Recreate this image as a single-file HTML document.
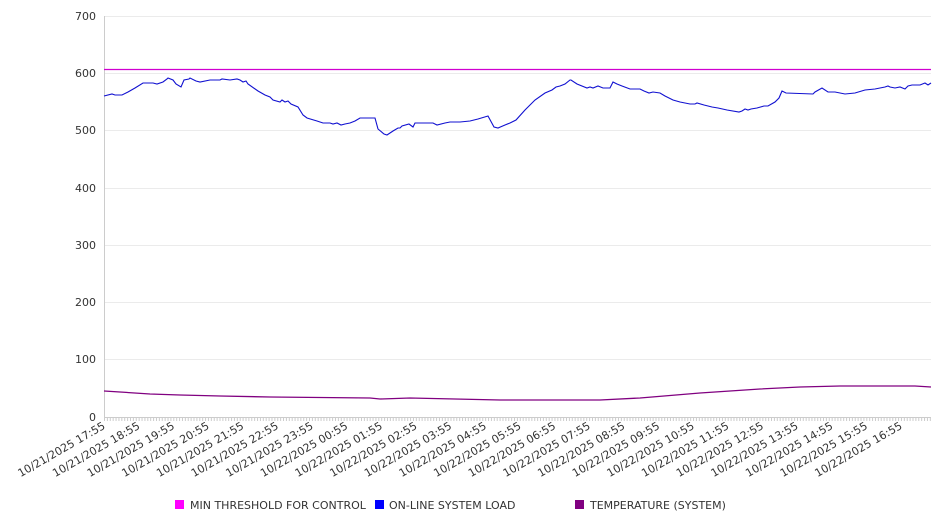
<!DOCTYPE html>
<html><head><style>body{margin:0;background:#fff}svg{display:block;font-family:"DejaVu Sans","Liberation Sans",sans-serif}</style></head><body>
<svg width="946" height="526" xmlns="http://www.w3.org/2000/svg">
<g stroke="#ebebeb" stroke-width="1">
<line x1="104" x2="931" y1="16.5" y2="16.5"/><line x1="104" x2="931" y1="73.5" y2="73.5"/><line x1="104" x2="931" y1="130.5" y2="130.5"/><line x1="104" x2="931" y1="188.5" y2="188.5"/><line x1="104" x2="931" y1="245.5" y2="245.5"/><line x1="104" x2="931" y1="302.5" y2="302.5"/><line x1="104" x2="931" y1="359.5" y2="359.5"/>
</g>
<line x1="104.5" x2="104.5" y1="16" y2="417" stroke="#ccc"/>
<line x1="104" x2="931" y1="417.5" y2="417.5" stroke="#ccc"/>
<g font-size="11" fill="#333" text-anchor="end">
<text x="96" y="20">700</text><text x="96" y="77">600</text><text x="96" y="134">500</text><text x="96" y="192">400</text><text x="96" y="249">300</text><text x="96" y="306">200</text><text x="96" y="363">100</text><text x="96" y="421">0</text>
</g>
<g id="ticks" stroke="#ccc"></g>
<g id="labels" font-size="11" fill="#333" text-anchor="end"></g>
<line x1="104" x2="931" y1="69.5" y2="69.5" stroke="#d000d0" stroke-width="1.2"/>
<polyline fill="none" stroke="#1010d0" stroke-width="1.1" points="104,96 112,94 115,95 122,95 128,92 135,88 143,83 153,83 157,84 163,82 167,79 168,78 173,80 176,84 181,87 184,80 189,79 190,78 196,81 200,82 210,80 220,80 222,79 230,80 237,79 240,80 243,82 246,81 248,84 258,91 265,95 270,97 273,100 280,102 282,100 285,102 288,101 291,104 298,107 303,115 307,118 317,121 323,123 330,123 333,124 337,123 341,125 345,124 350,123 355,121 360,118 375,118 378,129 384,134 387,135 393,131 398,128 400,128 402,126 409,124 413,127 415,123 423,123 433,123 437,125 445,123 450,122 460,122 470,121 478,119 488,116 494,127 498,128 505,125 510,123 516,120 525,110 535,100 545,93 552,90 556,87 560,86 565,84 570,80 571,80 577,84 587,88 590,87 593,88 598,86 603,88 610,88 613,82 617,84 622,86 630,89 640,89 644,91 649,93 653,92 660,93 665,96 673,100 680,102 690,104 695,104 697,103 704,105 712,107 718,108 727,110 739,112 742,111 745,109 748,110 751,109 757,108 764,106 768,106 775,102 779,98 782,91 786,93 813,94 815,92 822,88 828,92 835,92 845,94 855,93 865,90 875,89 885,87 888,86 890,87 895,88 900,87 905,89 908,86 912,85 920,85 925,83 928,85 931,83"/>
<polyline fill="none" stroke="#800080" stroke-width="1.3" points="104,391 120,392 150,394 180,395 220,396 270,397 370,398 380,399 410,398 500,400 600,400 640,398 700,393 760,389 800,387 840,386 915,386 931,387"/>
<g font-size="11" fill="#333">
<rect x="175" y="500" width="9" height="9" fill="#ff00ff"/><text x="190" y="509">MIN THRESHOLD FOR CONTROL</text>
<rect x="375" y="500" width="9" height="9" fill="#0000ff"/><text x="389" y="509">ON-LINE SYSTEM LOAD</text>
<rect x="575" y="500" width="9" height="9" fill="#800080"/><text x="590" y="509">TEMPERATURE (SYSTEM)</text>
</g>
<script>
var t=document.getElementById('ticks'),l=document.getElementById('labels'),ns='http://www.w3.org/2000/svg';
var step=34.65/12;
for(var i=0;104.5+i*step<=931;i++){var x=104.5+i*step;var e=document.createElementNS(ns,'line');e.setAttribute('x1',x);e.setAttribute('x2',x);e.setAttribute('y1',418);e.setAttribute('y2',421);t.appendChild(e);}
for(var h=0;h<24;h++){var x=106+h*34.65;var hr=(17+h)%24;var d=(17+h)>=24?'10/22/2025':'10/21/2025';
var s=document.createElementNS(ns,'text');s.setAttribute('transform','translate('+x+',428) rotate(-30)');s.textContent=d+' '+(hr<10?'0':'')+hr+':55';l.appendChild(s);}
</script>
</svg>
</body></html>
